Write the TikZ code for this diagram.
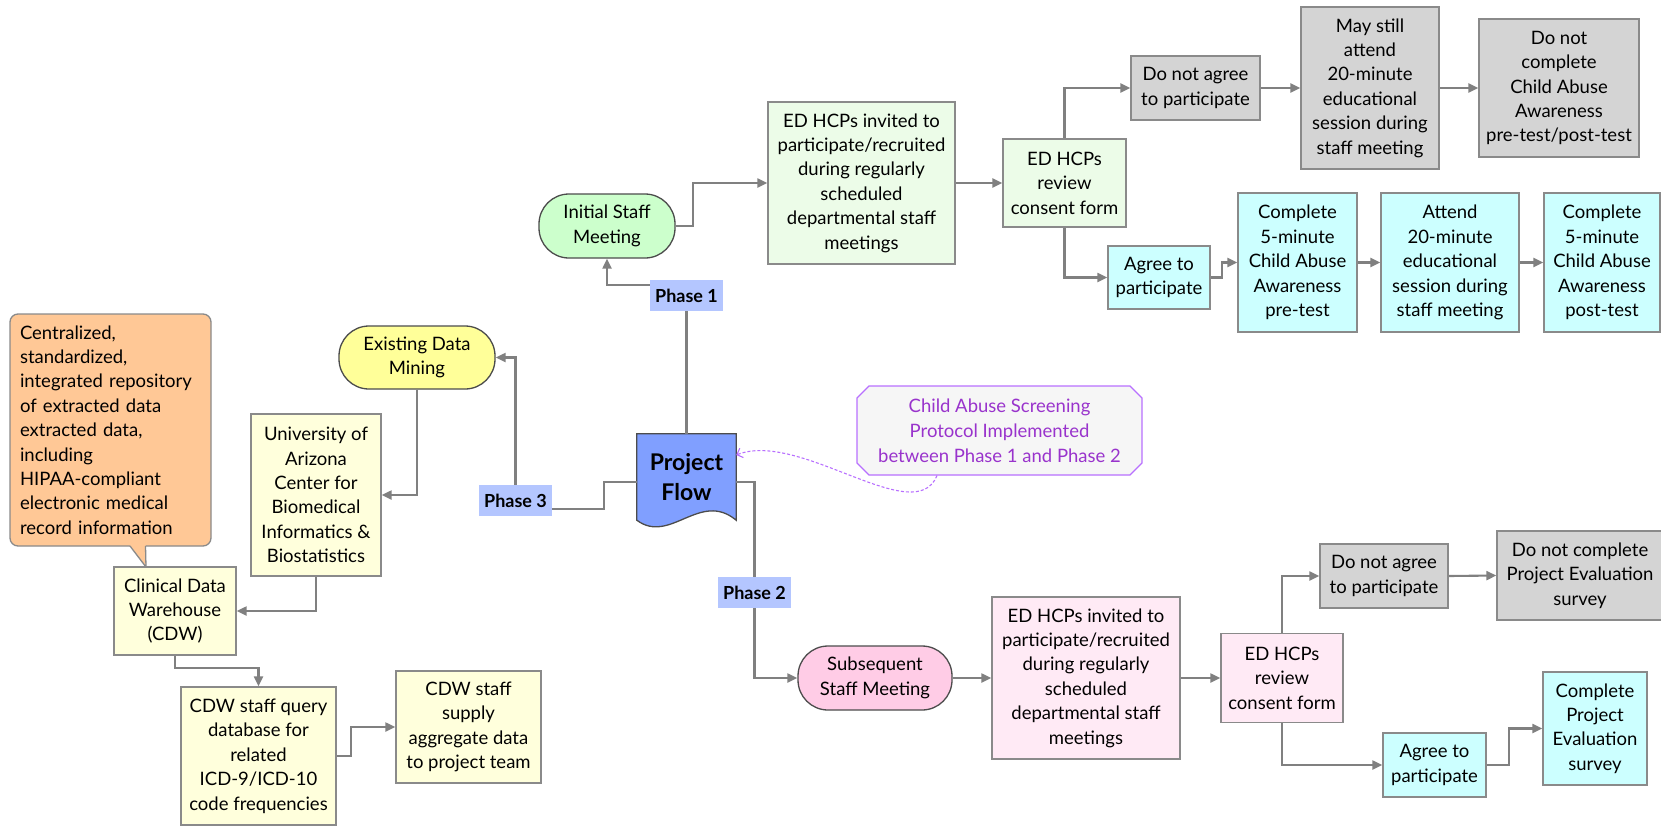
\documentclass[tikz,border=0pt]{standalone}
\usepackage{fontspec}
\setmainfont{Lato}
\usetikzlibrary{arrows.meta,shapes.misc}
\pgfdeclarelayer{bg}
\pgfsetlayers{bg,main}
\definecolor{linegrey}{HTML}{808080}
\definecolor{edgegrey}{HTML}{8A8A8A}
\definecolor{phaseblue}{HTML}{B4C6FF}
\definecolor{flowblue}{HTML}{809FFF}
\definecolor{greenpill}{HTML}{CCFFCC}
\definecolor{greenbox}{HTML}{ECFCE8}
\definecolor{greybox}{HTML}{D4D4D4}
\definecolor{cyanbox}{HTML}{CCFFFF}
\definecolor{yellowpill}{HTML}{FFFF99}
\definecolor{yellowbox}{HTML}{FFFFDC}
\definecolor{peach}{HTML}{FFC896}
\definecolor{pinkpill}{HTML}{FFCCE6}
\definecolor{pinkbox}{HTML}{FFEAF5}
\definecolor{notetext}{HTML}{9933CC}
\definecolor{noteedge}{HTML}{B870FF}
\definecolor{notefill}{HTML}{F6F6F6}
\tikzset{
  box/.style={draw=edgegrey, line width=1.3pt, align=center, inner sep=0pt,
    font=\fontsize{18.5}{24.4}\selectfont},
  pill/.style={box, draw=black!70, rounded corners=30pt},
  phase/.style={fill=phaseblue, inner sep=0pt, minimum width=73pt, minimum height=31pt,
    font=\fontsize{18}{22}\selectfont\bfseries},
  wire/.style={draw=linegrey, line width=2.1pt},
  sz/.style 2 args={minimum width=#1pt, minimum height=#2pt},
}
\begin{document}
\begin{tikzpicture}[x=1pt, y=-1pt, >={Triangle[length=10pt,width=9pt]}]
  \useasboundingbox (0,0) rectangle (1661,825);
  \node[inner sep=0pt, sz={99}{86}, align=center, font=\fontsize{23}{30}\selectfont\bfseries] (flow) at (686.5,477) {Project\\Flow};
  \node[phase] (ph1) at (686.5,295.5) {Phase 1};
  \node[phase] (ph2) at (754.5,592.5) {Phase 2};
  \node[phase] (ph3) at (515.5,500.5) {Phase 3};

  \node[pill, fill=greenpill, sz={136}{64}] (ism) at (607,226) {Initial Staff\\Meeting};
  \node[box, fill=greenbox, sz={187}{162}] (inv1) at (861.5,183) {ED HCPs invited to\\participate/recruited\\during regularly\\scheduled\\departmental staff\\meetings};
  \node[box, fill=greenbox, sz={123}{88}] (rev1) at (1064.5,183) {ED HCPs\\review\\consent form};
  \node[box, fill=greybox, sz={129}{64}] (dna1) at (1195.5,88) {Do not agree\\to participate};
  \node[box, fill=greybox, sz={138}{162}] (may) at (1370,88) {May still\\attend\\20-minute\\educational\\session during\\staff meeting};
  \node[box, fill=greybox, sz={160}{138}] (dnc1) at (1559,88) {Do not\\complete\\Child Abuse\\Awareness\\pre-test/post-test};
  \node[box, fill=cyanbox, sz={102}{63}] (agr1) at (1159,277.5) {Agree to\\participate};
  \node[box, fill=cyanbox, sz={119}{139}] (pre) at (1297.5,262.5) {Complete\\5-minute\\Child Abuse\\Awareness\\pre-test};
  \node[box, fill=cyanbox, sz={138}{139}] (att) at (1450,262.5) {Attend\\20-minute\\educational\\session during\\staff meeting};
  \node[box, fill=cyanbox, sz={116}{139}] (post) at (1602,262.5) {Complete\\5-minute\\Child Abuse\\Awareness\\post-test};

  \node[pill, fill=pinkpill, sz={154}{64}] (sub) at (875,678) {Subsequent\\Staff Meeting};
  \node[box, fill=pinkbox, sz={188}{162}] (inv2) at (1086,678) {ED HCPs invited to\\participate/recruited\\during regularly\\scheduled\\departmental staff\\meetings};
  \node[box, fill=pinkbox, sz={122}{89}] (rev2) at (1282,678) {ED HCPs\\review\\consent form};
  \node[box, fill=greybox, sz={128}{64}] (dna2) at (1384,576) {Do not agree\\to participate};
  \node[box, fill=greybox, sz={166}{89}] (dnc2) at (1580,575.5) {Do not complete\\Project Evaluation\\survey};
  \node[box, fill=cyanbox, sz={103}{64}] (agr2) at (1434.5,765) {Agree to\\participate};
  \node[box, fill=cyanbox, sz={104}{113}] (eval) at (1595,728.5) {Complete\\Project\\Evaluation\\survey};

  \node[pill, fill=yellowpill, sz={156}{63}] (mine) at (417,357.5) {Existing Data\\Mining};
  \node[box, fill=yellowbox, sz={130}{162}] (uofa) at (316,495) {University of\\Arizona\\Center for\\Biomedical\\Informatics \&\\Biostatistics};
  \node[box, fill=yellowbox, sz={122}{88}] (cdw) at (175,611) {Clinical Data\\Warehouse\\(CDW)};
  \node[box, fill=yellowbox, sz={155}{138}] (query) at (258.5,756) {CDW staff query\\database for\\related\\ICD-9/ICD-10\\code frequencies};
  \node[box, fill=yellowbox, sz={145}{112}] (supply) at (468.5,727) {CDW staff\\supply\\aggregate data\\to project team};
  \node[box, fill=peach, rounded corners=8pt, sz={201}{232}, align=left, text width=181pt, inner xsep=10pt] (repo) at (110.5,430) {Centralized,\\standardized,\\integrated repository\\of extracted data\\extracted data,\\including\\HIPAA-compliant\\electronic medical\\record information};
  \fill[peach] (129.5,544.6) -- (146,567) -- (145.5,544.6) -- cycle;
  \draw[edgegrey, line width=1.3pt, line join=round] (130,546) -- (146,567) -- (145.5,546);

  \node[chamfered rectangle, chamfered rectangle xsep=5pt, chamfered rectangle ysep=7pt, draw=noteedge, fill=notefill, line width=1.1pt, text=notetext, align=center, inner sep=0pt, sz={285}{89}, font=\fontsize{18.5}{25}\selectfont] (note) at (999.5,430.5) {Child Abuse Screening\\Protocol Implemented\\between Phase 1 and Phase 2};
  \draw[noteedge, line width=1.1pt, dash pattern=on 3pt off 2pt, -{Straight Barb[length=5pt,width=10pt]}] ([xshift=-62.5pt]note.south) .. controls (915,530) and (800,430) .. ([yshift=22pt]flow.east);

  \begin{pgfonlayer}{bg}
    \draw[fill=flowblue, draw=black!70, line width=1.3pt] (flow.north west) -- (flow.north east) -- (flow.south east) .. controls (700,490) and (670,545) .. (flow.south west) -- cycle;
    \draw[wire, ->] (flow.north) -- ([yshift=-5pt]ph1.north) -| (ism.south);
    \draw[wire, ->] (ism.east) -- ++(17,0) |- (inv1.west);
    \draw[wire, ->] (inv1.east) -- (rev1.west);
    \draw[wire, ->] (rev1.north) |- (dna1.west);
    \draw[wire, ->] (rev1.south) |- (agr1.west);
    \draw[wire, ->] (dna1.east) -- (may.west);
    \draw[wire, ->] (may.east) -- (dnc1.west);
    \draw[wire, ->] (agr1.east) -- ++(11,0) |- (pre.west);
    \draw[wire, ->] (pre.east) -- (att.west);
    \draw[wire, ->] (att.east) -- (post.west);
    \draw[wire, ->] ([yshift=-5pt]flow.east) -| (ph2.center) |- (sub.west);
    \draw[wire, ->] (sub.east) -- (inv2.west);
    \draw[wire, ->] (inv2.east) -- (rev2.west);
    \draw[wire, ->] (rev2.north) |- (dna2.west);
    \draw[wire, ->] (rev2.south) |- (agr2.west);
    \draw[wire, ->] (dna2.east) -- (dnc2.west);
    \draw[wire, ->] (agr2.east) -- ++(22,0) |- (eval.west);
    \draw[wire] ([yshift=-5pt]flow.west) -- ++(-33,0) |- ([yshift=-8.5pt]ph3.east);
    \draw[wire, ->] (ph3.north) |- (mine.east);
    \draw[wire, ->] (mine.south) |- (uofa.east);
    \draw[wire, ->] (uofa.south) |- (cdw.east);
    \draw[wire, ->] (cdw.south) -- ++(0,12) -| (query.north);
    \draw[wire, ->] (query.east) -- ++(14,0) |- (supply.west);
  \end{pgfonlayer}
\end{tikzpicture}
\end{document}
